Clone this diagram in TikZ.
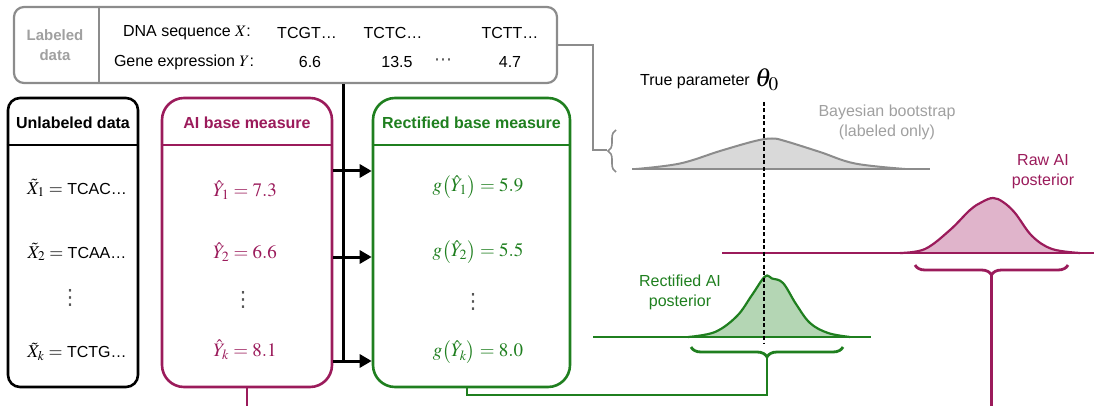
\documentclass[tikz,border=0pt]{standalone}
\usepackage{mathptmx}
\usepackage[no-math]{fontspec}
\setmainfont{Liberation Sans}
\newfontfamily\dvfont{DejaVu Sans}
\usetikzlibrary{arrows.meta,decorations.pathreplacing,calc}
\definecolor{mag}{HTML}{9B1B5B}
\definecolor{grn}{HTML}{1F7F1F}
\definecolor{magfill}{HTML}{E0B4CB}
\definecolor{grnfill}{HTML}{B4D6B4}
\definecolor{gryline}{HTML}{8C8C8C}
\definecolor{grytext}{HTML}{A0A0A0}
\definecolor{gryfill}{HTML}{D9D9D9}
\definecolor{dotgray}{HTML}{555555}
\tikzset{
  txt/.style={inner sep=0pt, font=\fontsize{16}{20}\selectfont},
  mtxt/.style={inner sep=0pt, font=\fontsize{19}{22}\selectfont},
  dots/.style={inner sep=0pt, text=dotgray, font=\dvfont\fontsize{21}{24}\selectfont},
  hdr/.style={inner sep=0pt, font=\fontsize{16}{20}\selectfont\bfseries},
  colbox/.style={draw, line width=2.6pt, inner sep=0pt, minimum height=289pt},
  arr/.style={line width=3pt, -{Triangle[length=12pt,width=13pt]}},
  brc/.style={decorate, decoration={brace, amplitude=10pt}, line width=2.8pt},
}
\begin{document}
\begin{tikzpicture}[x=1pt,y=-1pt]
\useasboundingbox (0,0) rectangle (1094,406);
% helper coordinates
\coordinate (ldiv) at (99,0);
\coordinate (hd) at (0,145);
\coordinate (vx) at (343,0);
\coordinate (vend) at (343,361);
\coordinate (r1) at (0,171);
\coordinate (r2) at (0,257);
\coordinate (r3) at (0,361);
\coordinate (bot) at (0,406);

% Labeled data box
\node[draw=gryline, line width=2.2pt, rounded corners=10pt, minimum width=543pt, minimum height=76pt, inner sep=0pt] (lab) at (285.5,45) {};
\draw[gryline, line width=2.2pt] (lab.north -| ldiv) -- (lab.south -| ldiv);
\node[inner sep=0pt, font=\fontsize{15}{20}\selectfont\bfseries, text=grytext, align=center] (labt) at (55,45) {Labeled\\data};
\node[txt] (dnal) at (187,33) {DNA sequence $X$:};
\node[txt] (genl) at (184,62) {Gene expression $Y$:};
\node[txt] (s1) at (307,33) {TCGT…};
\node[txt] (s2) at (393,33) {TCTC…};
\node[txt] (s3) at (510,33) {TCTT…};
\node[txt] (y1) at (310,62) {6.6};
\node[txt] (y2) at (397,62) {13.5};
\node[dots, font=\dvfont\fontsize{18}{20}\selectfont] (yd) at (443,62) {⋯};
\node[txt] (y3) at (510,62) {4.7};

% Unlabeled data box
\node[colbox, draw=black, rounded corners=12pt, minimum width=130pt] (unl) at (73,242.5) {};
\draw[line width=2.6pt] (unl.west |- hd) -- (unl.east |- hd);
\node[hdr] (unlt) at (73,123) {Unlabeled data};
\node[txt] (u1) at (77,188) {\fontsize{18}{20}\selectfont$\tilde{X}_1 =$\fontsize{16}{20}\selectfont\ TCAC…};
\node[txt] (u2) at (77,252) {\fontsize{18}{20}\selectfont$\tilde{X}_2 =$\fontsize{16}{20}\selectfont\ TCAA…};
\node[dots] (ud) at (70,298) {⋮};
\node[txt] (u3) at (77,352) {\fontsize{18}{20}\selectfont$\tilde{X}_k =$\fontsize{16}{20}\selectfont\ TCTG…};

% AI base measure box
\node[colbox, draw=mag, rounded corners=22pt, minimum width=170pt] (ai) at (247,242.5) {};
\draw[mag, line width=2.6pt] (ai.west |- hd) -- (ai.east |- hd);
\node[hdr, text=mag] (ait) at (247,123) {AI base measure};
\node[mtxt, text=mag] (a1) at (245,190) {$\hat{Y}_1 = 7.3$};
\node[mtxt, text=mag] (a2) at (245,252) {$\hat{Y}_2 = 6.6$};
\node[dots] (ad) at (243,300) {⋮};
\node[mtxt, text=mag] (a3) at (245,350) {$\hat{Y}_k = 8.1$};

% Rectified base measure box
\node[colbox, draw=grn, rounded corners=22pt, minimum width=197pt] (rect) at (471.5,242.5) {};
\draw[grn, line width=2.6pt] (rect.west |- hd) -- (rect.east |- hd);
\node[hdr, text=grn] (rectt) at (471.5,123) {Rectified base measure};
\node[mtxt, text=grn] (g1) at (478,187) {$g\bigl(\hat{Y}_1\bigr) = 5.9$};
\node[mtxt, text=grn] (g2) at (478,252) {$g\bigl(\hat{Y}_2\bigr) = 5.5$};
\node[dots] (gd) at (473,302) {⋮};
\node[mtxt, text=grn] (g3) at (478,352) {$g\bigl(\hat{Y}_k\bigr) = 8.0$};

% black connector and arrows
\draw[line width=3pt] (lab.south -| vx) -- (vend);
\draw[arr] (ai.east |- r1) -- (rect.west |- r1);
\draw[arr] (ai.east |- r2) -- (rect.west |- r2);
\draw[arr] (ai.east |- r3) -- (rect.west |- r3);

% magenta line below AI box
\draw[mag, line width=2.8pt] (ai.south) -- (ai.south |- bot);

% True parameter
\node[txt] (tp) at (695,82) {True parameter};
\node[inner sep=0pt, font=\fontsize{26}{28}\selectfont] (th) at (767,80) {$\theta_0$};
\coordinate (dtop) at (764,102);
\coordinate (dbot) at (764,343);

% Bayesian bootstrap curve
\fill[gryfill] plot[smooth, tension=0.6] coordinates {(636,169) (680,163.5) (720,151) (755,141) (772,138.5) (785,141) (820,152) (855,163.5) (905,169)} -- cycle;
\draw[gryline, line width=2pt] plot[smooth, tension=0.6] coordinates {(636,169) (680,163.5) (720,151) (755,141) (772,138.5) (785,141) (820,152) (855,163.5) (905,169)};
\draw[gryline, line width=2.2pt] (632,169) -- (930,169);
\node[txt, text=grytext, align=center] (bbl) at (887,122) {Bayesian bootstrap\\(labeled only)};

% gray connector to brace
\coordinate (gcor) at (593,150);
\coordinate (gtipg) at (607,150);
\draw[gryline, line width=2.2pt] (lab.east) -| (gcor) -- (gtipg);
\draw[gryline, decorate, decoration={brace, amplitude=8pt}, line width=1.6pt] (616,172) -- (616,130);

% Raw AI posterior
\fill[magfill] plot[smooth, tension=0.6] coordinates {(900,253) (925,249) (950,230) (970,210) (982,202) (993,198) (1003,202) (1015,213) (1032,236) (1052,249) (1080,253)} -- cycle;
\draw[mag, line width=2.2pt] plot[smooth, tension=0.6] coordinates {(900,253) (925,249) (950,230) (970,210) (982,202) (993,198) (1003,202) (1015,213) (1032,236) (1052,249) (1080,253)};
\draw[mag, line width=2.2pt] (722,253) -- (1094,253);
\node[txt, text=mag, align=center] (rawl) at (1043,172) {Raw AI\\posterior};
\draw[mag, brc] (1068,265) -- (915,265);
\coordinate (mtip) at (991.5,275);
\draw[mag, line width=2.8pt] (mtip) -- (mtip |- bot);

% Rectified AI posterior
\fill[grnfill] plot[smooth, tension=0.6] coordinates {(688,337) (715,332) (737,316) (752,295) (765,276.5) (772,278.5) (783,283) (796,304) (810,323) (828,333) (850,337)} -- cycle;
\draw[grn, line width=2.2pt] plot[smooth, tension=0.6] coordinates {(688,337) (715,332) (737,316) (752,295) (765,276.5) (772,278.5) (783,283) (796,304) (810,323) (828,333) (850,337)};
\draw[grn, line width=2.2pt] (593,337) -- (871,337);
\node[txt, text=grn, align=center] (recl) at (680,292) {Rectified AI\\posterior};
\draw[grn, brc] (843,347) -- (691,347);
\coordinate (gtip) at (767,357);
\coordinate (gcorner) at (467,395);
\draw[grn, line width=2.8pt] (gtip) |- (gcorner) -- (rect.south -| gcorner);

% dashed true parameter line
\draw[line width=1.2pt, dash pattern=on 4pt off 2.5pt] (dtop) -- (dbot);
\end{tikzpicture}
\end{document}
